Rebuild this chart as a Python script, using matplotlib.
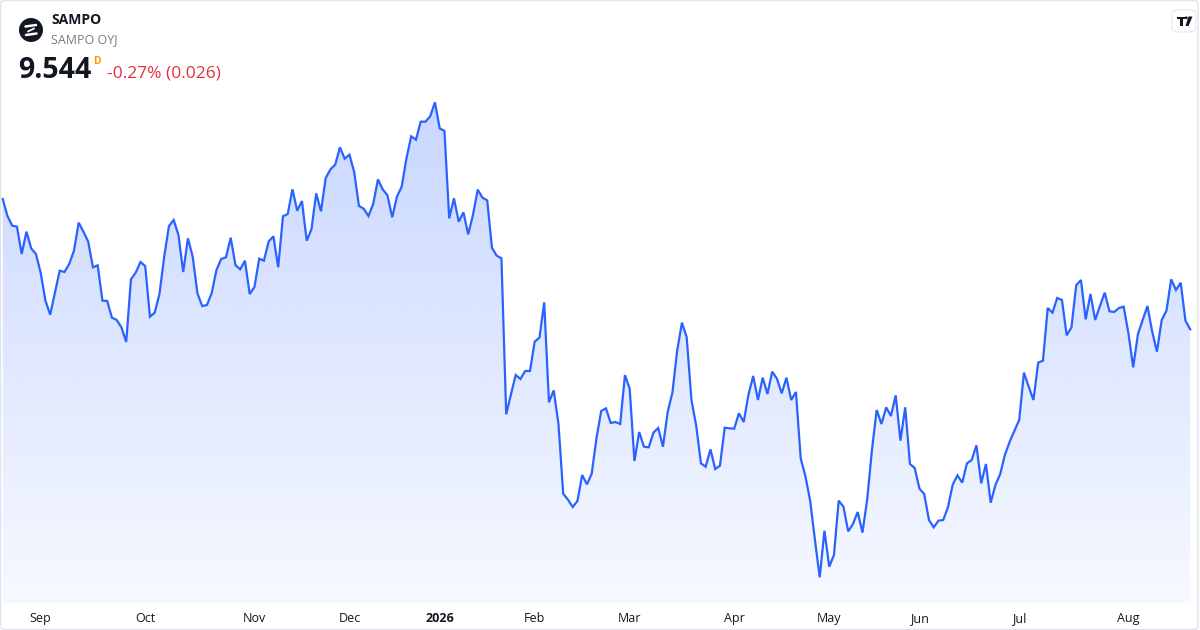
import matplotlib.pyplot as plt
import numpy as np
import pandas as pd
from matplotlib.colors import to_rgb
from matplotlib.patches import Circle, FancyBboxPatch, Polygon
from matplotlib.transforms import IdentityTransform

plt.rcParams['font.family'] = ['Open Sans', 'DejaVu Sans']

ticker = 'SAMPO'
company = 'SAMPO OYJ'
last_price = '9.544'
interval = 'D'
change_text = '-0.27% (0.026)'

# Helsinki exchange closing days inside the period
holidays = ['2025-12-24', '2025-12-25', '2025-12-26', '2025-12-31', '2026-01-01',
            '2026-01-06', '2026-04-03', '2026-04-06', '2026-05-01', '2026-05-14',
            '2026-06-19']

# daily close, 20 Aug 2025 .. 20 Aug 2026
close = [
    9.935, 9.884, 9.855, 9.852, 9.770, 9.837, 9.787, 9.770, 9.713, 9.630,
    9.588, 9.654, 9.720, 9.716, 9.740, 9.780, 9.864, 9.837, 9.807, 9.730,
    9.736, 9.630, 9.629, 9.579, 9.572, 9.550, 9.506, 9.694, 9.714, 9.746,
    9.734, 9.582, 9.594, 9.650, 9.762, 9.854, 9.872, 9.827, 9.716, 9.817,
    9.762, 9.652,
    9.614, 9.617, 9.653, 9.722, 9.755, 9.760, 9.819, 9.737, 9.724, 9.750,
    9.650, 9.671, 9.756, 9.750, 9.808, 9.823, 9.730, 9.883, 9.890, 9.964,
    9.900, 9.929, 9.810, 9.844, 9.952, 9.898, 9.998, 10.024, 10.038, 10.090,
    10.056, 10.068, 10.016, 9.914, 9.906, 9.884, 9.920, 9.994, 9.964, 9.946,
    9.880, 9.942,
    9.972, 10.057, 10.123, 10.113, 10.167, 10.167, 10.183, 10.225, 10.147, 10.139,
    9.877, 9.937, 9.867, 9.895, 9.829, 9.887, 9.963, 9.939, 9.931, 9.789,
    9.765, 9.757, 9.289, 9.349, 9.407, 9.395, 9.419, 9.419, 9.507, 9.519,
    9.625, 9.325, 9.361, 9.261, 9.051, 9.033, 9.011, 9.029, 9.107, 9.079,
    9.111, 9.217,
    9.299, 9.307, 9.263, 9.266, 9.260, 9.407, 9.365, 9.149, 9.236, 9.192,
    9.190, 9.234, 9.248, 9.192, 9.296, 9.355, 9.481, 9.564, 9.520, 9.332,
    9.255, 9.142, 9.132, 9.184, 9.125, 9.135, 9.249, 9.247, 9.246, 9.292,
    9.266, 9.348, 9.404, 9.332, 9.399, 9.350, 9.417, 9.396, 9.352, 9.399,
    9.332, 9.356,
    9.157, 9.103, 9.029, 8.912, 8.800, 8.940, 8.832, 8.867, 9.030, 9.012,
    8.938, 8.960, 8.996, 8.934, 9.034, 9.182, 9.302, 9.260, 9.310, 9.284,
    9.346, 9.210, 9.310, 9.140, 9.128, 9.066, 9.050, 8.972, 8.950, 8.970,
    8.972, 9.010, 9.078, 9.106, 9.084, 9.142, 9.152, 9.196, 9.082, 9.140,
    9.024, 9.077,
    9.110, 9.168, 9.207, 9.240, 9.272, 9.414, 9.372, 9.332, 9.444, 9.450,
    9.608, 9.594, 9.638, 9.632, 9.526, 9.550, 9.676, 9.692, 9.574, 9.650,
    9.572, 9.614, 9.654, 9.598, 9.596, 9.608, 9.612, 9.532, 9.430, 9.530,
    9.572, 9.614, 9.537, 9.477, 9.572, 9.600, 9.694, 9.662, 9.684, 9.570,
    9.544,
]

dates = pd.bdate_range('2025-08-20', '2026-08-20', freq='C', holidays=holidays)
dates = dates[:len(close)]
idx = np.arange(len(close))

W, H = 1200, 630
fig = plt.figure(figsize=(12, 6.3), dpi=100)
fig.patch.set_facecolor('white')
PX = IdentityTransform()  # display pixels, origin bottom-left


def fx(x):
    return x / W


def fy(y):
    return 1 - y / H


def pxy(x, y):
    return (x, H - y)


ax = fig.add_axes([0, 27 / H, 1, 603 / H])
step = 4.75
x0, x1 = -2.7 / step, (W - 2.7) / step
y0, y1 = 8.723, 10.532
ax.set_xlim(x0, x1)
ax.set_ylim(y0, y1)

line_col = '#2962FF'
ax.plot(idx, close, color=line_col, lw=1.6, zorder=3, solid_joinstyle='miter')

# gradient area under the line
n = 256
rgba = np.zeros((n, 1, 4))
rgba[..., :3] = to_rgb(line_col)
rgba[:, 0, 3] = np.linspace(0.30, 0.04, n)
im = ax.imshow(rgba, extent=[x0, x1, y0, y1], aspect='auto', origin='upper',
               zorder=1, interpolation='bilinear')
verts = np.column_stack([np.r_[idx, idx[-1], idx[0]], np.r_[close, y0, y0]])
clip = Polygon(verts, closed=True, transform=ax.transData, facecolor='none', edgecolor='none')
ax.add_patch(clip)
im.set_clip_path(clip)

# month ticks on the first trading day of each month
ticks, labels = [], []
for i in range(1, len(dates)):
    if dates[i].month != dates[i - 1].month:
        ticks.append(i)
        labels.append(str(dates[i].year) if dates[i].month == 1 else dates[i].strftime('%b'))
ax.set_xticks(ticks, labels)
for t, lab in zip(ax.get_xticklabels(), labels):
    if lab.isdigit():
        t.set_fontweight('bold')
ax.tick_params(axis='x', length=0, pad=6.5, labelsize=9, labelcolor='#131722')
ax.set_yticks([])
for s in ax.spines.values():
    s.set_visible(False)
ax.set_facecolor('none')

# header
fig.patches.append(Circle(pxy(31, 30), 12, transform=PX, facecolor='#131722', edgecolor='none'))
for (xa, ya, xb, yb, w) in [(25.5, 26.5, 36, 25, 1.8), (26, 35, 36.5, 33.5, 1.8),
                            (28, 31.5, 34, 28.5, 1.3)]:
    a, b = pxy(xa, ya), pxy(xb, yb)
    fig.lines.append(plt.Line2D([a[0], b[0]], [a[1], b[1]], transform=PX,
                                color='white', lw=w, solid_capstyle='round'))

fig.text(fx(51), fy(20), ticker, fontsize=10, fontweight='bold', color='#131722', va='center')
fig.text(fx(51), fy(40), company, fontsize=9, color='#787b86', va='center')
fig.text(fx(18), fy(71), last_price, fontsize=20.5, fontweight='bold', color='#131722', va='center')
fig.text(fx(93), fy(61), interval, fontsize=7.5, fontweight='bold', color='#ff9800', va='center')
fig.text(fx(107), fy(74), change_text, fontsize=12.5, color='#e0313f', va='center')

# logo box top right
fig.patches.append(FancyBboxPatch(pxy(1172, 32), 24, 22, transform=PX,
                                  boxstyle='round,pad=0,rounding_size=5',
                                  facecolor='white', edgecolor='#e6e8ee', lw=0.8))
logo = [
    [(1177, 16.5), (1184.5, 16.5), (1184.5, 19), (1182.8, 19), (1182.8, 26), (1180.3, 26),
     (1180.3, 19), (1177, 19)],
    [(1188.5, 16.5), (1192.5, 16.5), (1188.5, 26), (1185.5, 26)],
]
for shape in logo:
    fig.patches.append(Polygon([pxy(a, b) for a, b in shape], closed=True,
                               transform=PX, facecolor='#131722', edgecolor='none'))
fig.patches.append(Circle(pxy(1186.3, 17.8), 1.4, transform=PX,
                          facecolor='#131722', edgecolor='none'))

# outer frame
fig.patches.append(FancyBboxPatch(pxy(0.5, 629.5), 1197.5, 629, transform=PX,
                                  boxstyle='round,pad=0,rounding_size=4',
                                  facecolor='none', edgecolor='#e0e3eb', lw=1))

fig.savefig('out.png', dpi=100)
